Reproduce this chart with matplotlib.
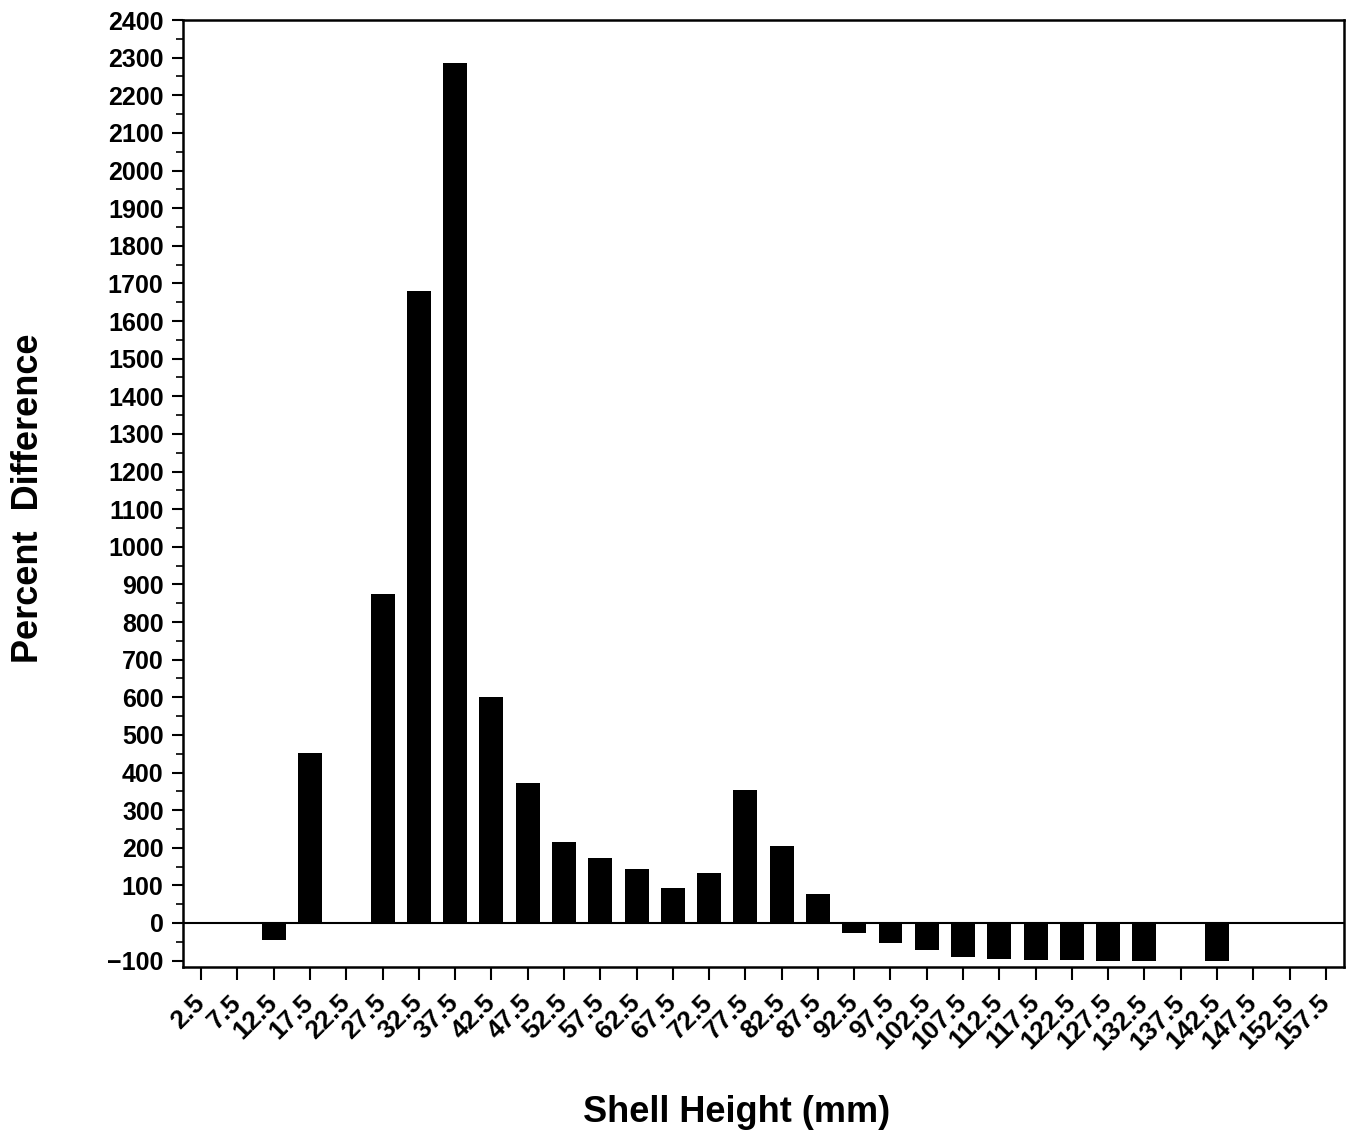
import matplotlib
matplotlib.use("Agg")
import matplotlib.pyplot as plt
from matplotlib.ticker import MultipleLocator

# Size-class midpoints (mm) and percent difference for each class
shell_height = [2.5, 7.5, 12.5, 17.5, 22.5, 27.5, 32.5, 37.5, 42.5, 47.5,
                52.5, 57.5, 62.5, 67.5, 72.5, 77.5, 82.5, 87.5, 92.5, 97.5,
                102.5, 107.5, 112.5, 117.5, 122.5, 127.5, 132.5, 137.5, 142.5,
                147.5, 152.5, 157.5]
percent_diff = [0, 0, -45, 452, 0, 875, 1680, 2287, 601, 372,
                215, 172, 144, 94, 132, 354, 205, 76, -26, -54,
                -73, -90, -96, -98, -99, -100, -100, 0, -100,
                0, 0, 0]
tick_labels = [f"{v:g}" for v in shell_height]

plt.rcParams['font.family'] = ['Liberation Sans', 'DejaVu Sans']
plt.rcParams['font.weight'] = 'bold'

fig = plt.figure(figsize=(13.51, 11.37), dpi=100)
ax = fig.add_axes([0.1355, 0.1495, 0.8593, 0.8329])

ax.bar(shell_height, percent_diff, width=3.3, color='black', zorder=2)
ax.axhline(0, color='black', lw=1.5, zorder=3)

ax.set_xlim(0, 160)
ax.set_ylim(-117, 2400)

ax.set_xticks(shell_height)
ax.set_xticklabels(tick_labels, rotation=45, ha='right', va='center',
                   rotation_mode='anchor', fontsize=19, fontweight='bold')
ax.yaxis.set_major_locator(MultipleLocator(100))
ax.yaxis.set_minor_locator(MultipleLocator(50))
for lbl in ax.get_yticklabels():
    lbl.set_fontsize(18)
    lbl.set_fontweight('bold')

ax.tick_params(axis='y', which='major', direction='out', length=8, width=1.5, pad=6)
ax.tick_params(axis='y', which='minor', direction='out', length=5, width=1.2)
ax.tick_params(axis='x', which='major', direction='out', length=9, width=1.5, pad=14)

for sp in ax.spines.values():
    sp.set_linewidth(1.8)
    sp.set_color('black')

ax.set_ylabel("Percent  Difference", fontsize=26, fontweight='bold')
ax.yaxis.set_label_coords(-0.1335, 0.495)
ax.set_xlabel("Shell Height (mm)", fontsize=26, fontweight='bold')
ax.xaxis.set_label_coords(0.477, -0.154)
ax.xaxis.label.set_va('center')
ax.yaxis.label.set_va('center')

fig.savefig("out.png", dpi=100)
